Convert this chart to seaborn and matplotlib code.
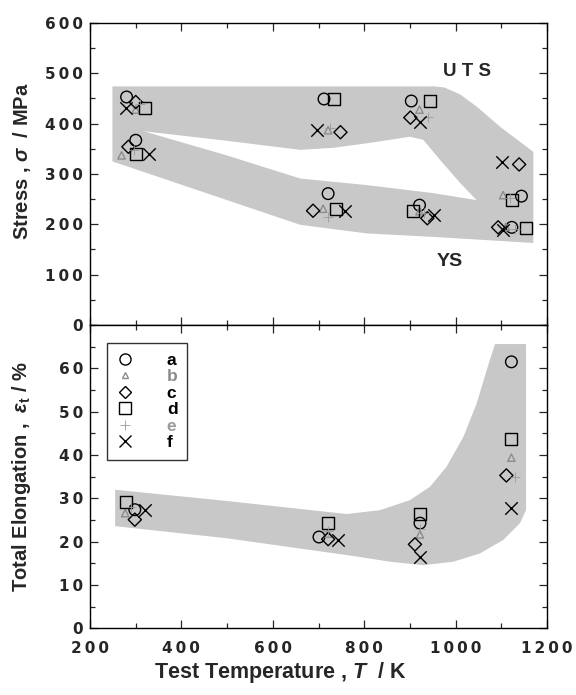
import matplotlib
matplotlib.use("Agg")
import matplotlib.pyplot as plt
from matplotlib.lines import Line2D
from matplotlib.ticker import FixedLocator, MultipleLocator
import seaborn as sns
import pandas as pd

# samples and their marker styles
samples = ['a', 'b', 'c', 'd', 'e', 'f']
sample_markers = ['o', '^', 'D', 's', '+', 'x']
sample_colors = ['black', '#8c8c8c', 'black', 'black', '#9a9a9a', 'black']

# ultimate tensile strength (MPa) vs test temperature (K)
uts_T = {
    'a': [280, 712, 903, 1144], 'b': [300, 721, 921, 1104],
    'c': [300, 748, 901, 1139], 'd': [320, 733, 943, 1123],
    'e': [310, 725, 940, 1120], 'f': [279, 697, 921, 1102],
}
uts_val = {
    'a': [453, 449, 445, 256], 'b': [428, 387, 428, 258],
    'c': [443, 383, 412, 319], 'd': [432, 449, 445, 249],
    'e': [440, 392, 413, 252], 'f': [432, 387, 403, 324],
}

# yield strength (MPa)
ys_T = {
    'a': [300, 721, 921, 1123], 'b': [269, 710, 921, 1110],
    'c': [284, 688, 938, 1093], 'd': [300, 738, 907, 1153],
    'e': [296, 721, 930, 1130], 'f': [330, 758, 952, 1104],
}
ys_val = {
    'a': [367, 261, 238, 194], 'b': [337, 231, 226, 195],
    'c': [354, 227, 212, 194], 'd': [339, 231, 226, 192],
    'e': [348, 215, 222, 190], 'f': [339, 227, 218, 188],
}

# total elongation (%)
el_T = {
    'a': [298, 701, 922, 1122], 'b': [277, 721, 922, 1122],
    'c': [298, 721, 911, 1111], 'd': [279, 721, 922, 1122],
    'e': [290, 721, 922, 1131], 'f': [320, 742, 922, 1122],
}
el_val = {
    'a': [27.4, 21.1, 24.3, 61.5], 'b': [26.6, 21.9, 21.7, 39.4],
    'c': [25.1, 20.6, 19.4, 35.3], 'd': [29.2, 24.4, 26.5, 43.6],
    'e': [28.0, 22.5, 23.0, 34.9], 'f': [27.4, 20.4, 16.5, 27.9],
}

# shaded scatter bands (outline)
stress_band_T = [249, 954, 975, 1010, 1046, 1097, 1170, 1170, 951, 805, 660, 249]
stress_band_S = [474, 474, 472, 458, 434, 394, 344, 163, 175, 182, 199, 325]
stress_gap_T = [317, 499, 660, 732, 806, 900, 929, 966, 1010, 1046,
                951, 805, 660, 499]
stress_gap_S = [385, 366, 348, 352, 361, 374, 368, 328, 282, 248,
                262, 278, 291, 337]
el_band_T = [255, 255, 500, 784, 856, 929, 995, 1053, 1104, 1141, 1154,
             1154, 1086, 1068, 1046, 1017, 980, 944, 900, 835, 762, 500]
el_band_E = [32.0, 23.6, 20.8, 16.6, 15.4, 14.6, 15.4, 17.3, 20.4, 24.3, 27.3,
             65.6, 65.6, 59.6, 51.9, 44.2, 37.3, 32.7, 29.6, 27.3, 26.4, 29.4]

rows = []
for s in samples:
    for t, v in zip(uts_T[s], uts_val[s]):
        rows.append((s, 'UTS', t, v))
    for t, v in zip(ys_T[s], ys_val[s]):
        rows.append((s, 'YS', t, v))
    for t, v in zip(el_T[s], el_val[s]):
        rows.append((s, 'EL', t, v))
data = pd.DataFrame(rows, columns=['sample', 'prop', 'T', 'value'])

sns.set_style('ticks')
plt.rcParams['font.family'] = ['Liberation Sans', 'DejaVu Sans']
plt.rcParams['mathtext.fontset'] = 'custom'
plt.rcParams['mathtext.it'] = 'Liberation Sans:italic:bold'
plt.rcParams['mathtext.rm'] = 'Liberation Sans:bold'

fig = plt.figure(figsize=(5.76, 6.95), dpi=100)
ax1 = fig.add_axes([0.1563, 0.5324, 0.7934, 0.4345])
ax2 = fig.add_axes([0.1563, 0.0957, 0.7934, 0.4367])

# gray bands behind the points
band_color = '#c8c8c8'
ax1.fill(stress_band_T, stress_band_S, color=band_color, lw=0, zorder=0)
ax1.fill(stress_gap_T, stress_gap_S, color='white', lw=0, zorder=0.5)
ax2.fill(el_band_T, el_band_E, color=band_color, lw=0, zorder=0)


def draw_points(ax, sub):
    # one call per sample: open and line-art markers can't share a call
    for s, m, c in zip(samples, sample_markers, sample_colors):
        d = sub[sub['sample'] == s]
        kw = dict(marker=m, color=c, linewidth=1.0, zorder=3, legend=False)
        if m in ('+', 'x'):
            kw['s'] = 80 if m == 'x' else 50
            kw['linewidth'] = 1.0 if m == 'x' else 0.6
        else:
            kw['facecolor'] = 'none'
            kw['edgecolor'] = c
            kw['s'] = {'o': 70, '^': 28, 'D': 45, 's': 75}[m]
        sns.scatterplot(data=d, x='T', y='value', ax=ax, **kw)


draw_points(ax1, data[data['prop'].isin(['UTS', 'YS'])])
draw_points(ax2, data[data['prop'] == 'EL'])


def spaced(v):
    return '\u2009'.join(str(int(v)))


tick_font = dict(family='DejaVu Sans', weight='bold', size=11)
for ax in (ax1, ax2):
    ax.set_xlim(200, 1200)
    ax.xaxis.set_major_locator(MultipleLocator(200))
    ax.xaxis.set_minor_locator(MultipleLocator(100))
    ax.tick_params(which='both', direction='in', top=True, right=True,
                   width=0.9)
    ax.tick_params(which='major', length=6)
    ax.tick_params(which='minor', length=3.5)
    ax.tick_params(axis='y', pad=5)
    ax.tick_params(axis='x', pad=9)
    for sp in ax.spines.values():
        sp.set_linewidth(1.0)
        sp.set_color('black')
    ax.set_xlabel('')
    ax.set_ylabel('')

ax1.set_ylim(0, 600)
ax1.yaxis.set_major_locator(FixedLocator(range(0, 601, 100)))
ax1.yaxis.set_minor_locator(MultipleLocator(50))
ax1.set_yticklabels([spaced(v) for v in range(0, 601, 100)], fontdict=tick_font)
ax1.tick_params(axis='x', labelbottom=False)

ax2.set_ylim(0, 70)
ax2.yaxis.set_major_locator(FixedLocator(range(0, 61, 10)))
ax2.yaxis.set_minor_locator(MultipleLocator(5))
ax2.set_yticklabels([spaced(v) for v in range(0, 61, 10)], fontdict=tick_font)
ax2.xaxis.set_major_locator(FixedLocator(range(200, 1201, 200)))
ax2.set_xticklabels([spaced(v) for v in range(200, 1201, 200)], fontdict=tick_font)

ax1.text(1024, 503, 'U T S', fontsize=13.5, fontweight='bold', ha='center', va='center')
ax1.text(987, 126, 'YS', fontsize=14, fontweight='bold', ha='center', va='center')

ax1.set_ylabel(r'Stress , $\sigma$  / MPa', fontsize=14.5, fontweight='bold')
ax1.yaxis.set_label_coords(-0.125, 0.543)
ax2.set_ylabel(r'Total Elongation ,  $\varepsilon_{\rm t}$ / %', fontsize=14.5,
               fontweight='bold')
ax2.yaxis.set_label_coords(-0.125, 0.5)
ax2.set_xlabel(r'Test Temperature , $T$  / K', fontsize=15.5, fontweight='bold')
ax2.xaxis.set_label_coords(0.416, -0.104)

handles = []
for s, m, c in zip(samples, sample_markers, sample_colors):
    ms = {'o': 8, '^': 5, 'D': 6.5, 's': 8.5, '+': 7, 'x': 9}[m]
    handles.append(Line2D([], [], ls='none', marker=m, color=c, mec=c, mfc='none',
                          ms=ms, mew=1.0 if m != '+' else 0.6))
leg = ax2.legend(handles, samples, loc='upper left', bbox_to_anchor=(0.037, 0.941),
                 frameon=True, fancybox=False, edgecolor='black', handlelength=1.0,
                 handletextpad=1.9, borderpad=0.55, labelspacing=0.08,
                 borderaxespad=0, prop=dict(weight='bold', size=12.5))
leg.get_frame().set_linewidth(1.0)
for txt, c in zip(leg.get_texts(), sample_colors):
    txt.set_color(c)

fig.savefig('out.png', dpi=100)
